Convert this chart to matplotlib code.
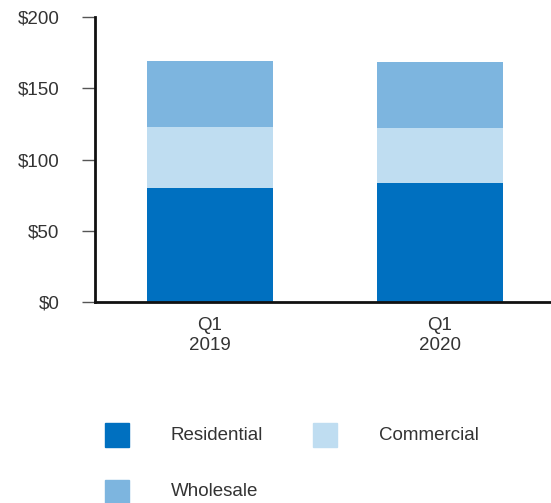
import matplotlib
matplotlib.use("Agg")
import matplotlib.pyplot as plt
from matplotlib.patches import Rectangle

plt.rcParams['font.family'] = ['Liberation Sans', 'DejaVu Sans']

periods = ["Q1\n2019", "Q1\n2020"]
residential = [80.0, 83.3]
commercial = [42.8, 38.6]
wholesale = [46.2, 46.3]
y_ticks = [0, 50, 100, 150, 200]
y_tick_labels = ["$0", "$50", "$100", "$150", "$200"]
series_names = ["Residential", "Commercial", "Wholesale"]
series_colors = ["#0070C0", "#BFDDF1", "#7DB5DF"]

text_color = "#333333"
font_size = 13.5

fig = plt.figure(figsize=(5.51, 5.03), dpi=100)
ax = fig.add_axes([95 / 551, 1 - 302 / 503, 1 - 95 / 551, (302 - 17) / 503])

x = list(range(len(periods)))
width = 0.548
bottoms2 = [r + c for r, c in zip(residential, commercial)]
ax.bar(x, residential, width, color=series_colors[0], label=series_names[0])
ax.bar(x, commercial, width, bottom=residential, color=series_colors[1], label=series_names[1])
ax.bar(x, wholesale, width, bottom=bottoms2, color=series_colors[2], label=series_names[2])

ax.set_xlim(-0.5, 1.483)
ax.set_ylim(0, 200)
ax.set_yticks(y_ticks)
ax.set_yticklabels(y_tick_labels)
ax.set_xticks(x)
ax.set_xticklabels(periods, linespacing=1.2)

for side in ("top", "right"):
    ax.spines[side].set_visible(False)
ax.spines["left"].set_linewidth(2.0)
ax.spines["bottom"].set_linewidth(2.0)
ax.spines["left"].set_color("#111111")
ax.spines["bottom"].set_color("#111111")
ax.tick_params(axis="y", length=9.5, width=1.0, color="#555555", pad=16,
               labelsize=font_size, labelcolor=text_color)
ax.tick_params(axis="x", length=0, pad=11, labelsize=font_size, labelcolor=text_color)

# Legend drawn as squares with labels beneath the chart
legend_items = [(105, 435, 171), (313, 435, 379), (105, 492, 171)]
for (sx, sy, tx), name, col in zip(legend_items, series_names, series_colors):
    fig.patches.append(Rectangle((sx / 551, 1 - (sy + 12) / 503), 24 / 551, 24 / 503,
                                 transform=fig.transFigure, color=col, figure=fig))
    fig.text(tx / 551, 1 - sy / 503, name, ha="left", va="center",
             fontsize=font_size, color=text_color)

fig.savefig("out.png", dpi=100)
